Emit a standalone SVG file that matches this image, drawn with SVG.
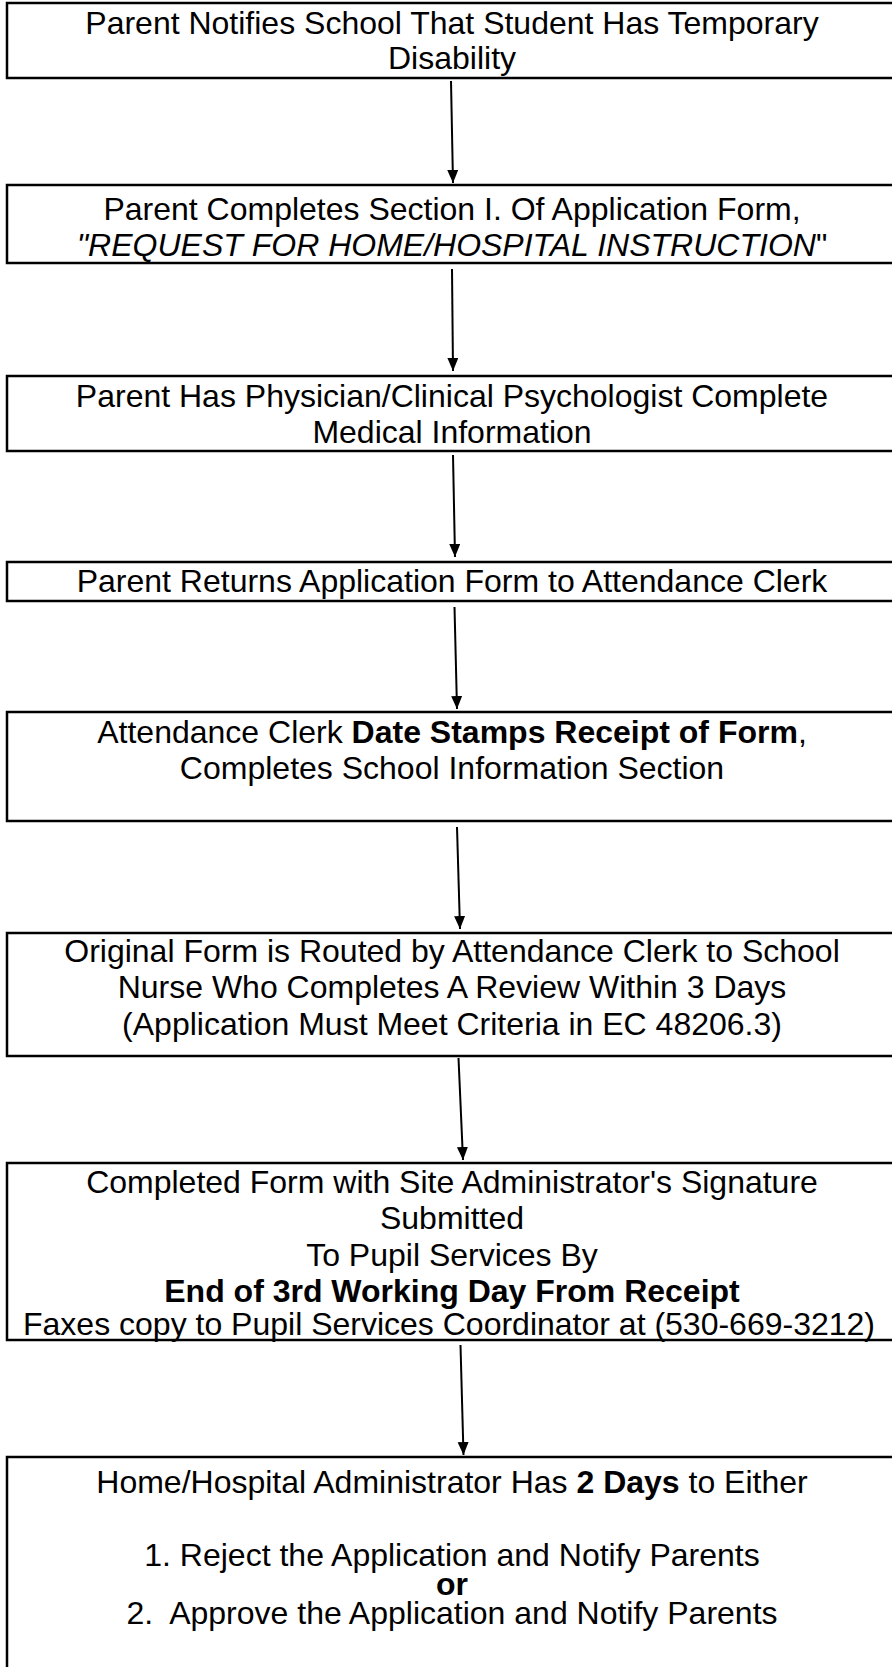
<svg xmlns="http://www.w3.org/2000/svg" width="892" height="1667" viewBox="0 0 892 1667">
<defs>
<marker id="arr" markerUnits="userSpaceOnUse" markerWidth="14" markerHeight="14" refX="13" refY="5.5" orient="auto">
<path d="M0,0 L13,5.5 L0,11 Z" fill="#000"/>
</marker>
<style>
.box{fill:#fff;stroke:#000;stroke-width:2.5}
.t{font-family:"Liberation Sans",Arial,sans-serif;font-size:32px;fill:#000;text-anchor:middle}
.b{font-weight:bold}
.i{font-style:italic}
.c{stroke:#000;stroke-width:2;fill:none;marker-end:url(#arr)}
</style>
</defs>
<rect width="892" height="1667" fill="#fff"/>
<g id="connectors">
<line class="c" x1="451" y1="81" x2="453" y2="183"/>
<line class="c" x1="452" y1="269" x2="453" y2="371"/>
<line class="c" x1="453" y1="455" x2="455" y2="557"/>
<line class="c" x1="454.5" y1="607" x2="457" y2="709"/>
<line class="c" x1="457" y1="827" x2="460" y2="929"/>
<line class="c" x1="458.5" y1="1058" x2="463" y2="1160"/>
<line class="c" x1="460.5" y1="1345" x2="463.5" y2="1455"/>
</g>
<g id="n1">
<rect class="box" x="7" y="3" width="890" height="75"/>
<text class="t" x="452" y="34">Parent Notifies School That Student Has Temporary</text>
<text class="t" x="452" y="69">Disability</text>
</g>
<g id="n2">
<rect class="box" x="7" y="185" width="890" height="78"/>
<text class="t" x="452" y="220">Parent Completes Section I. Of Application Form,</text>
<text class="t" x="452" y="256"><tspan class="i">"REQUEST FOR HOME/HOSPITAL INSTRUCTION</tspan>"</text>
</g>
<g id="n3">
<rect class="box" x="7" y="376" width="890" height="75"/>
<text class="t" x="452" y="407">Parent Has Physician/Clinical Psychologist Complete</text>
<text class="t" x="452" y="443">Medical Information</text>
</g>
<g id="n4">
<rect class="box" x="7" y="562" width="890" height="39"/>
<text class="t" x="452" y="592">Parent Returns Application Form to Attendance Clerk</text>
</g>
<g id="n5">
<rect class="box" x="7" y="712" width="890" height="109"/>
<text class="t" x="452" y="743">Attendance Clerk <tspan class="b">Date Stamps Receipt of Form</tspan>,</text>
<text class="t" x="452" y="779">Completes School Information Section</text>
</g>
<g id="n6">
<rect class="box" x="7" y="933" width="890" height="123"/>
<text class="t" x="452" y="962">Original Form is Routed by Attendance Clerk to School</text>
<text class="t" x="452" y="998">Nurse Who Completes A Review Within 3 Days</text>
<text class="t" x="452" y="1035">(Application Must Meet Criteria in EC 48206.3)</text>
</g>
<g id="n7">
<rect class="box" x="7" y="1163" width="890" height="177"/>
<text class="t" x="452" y="1193">Completed Form with Site Administrator's Signature</text>
<text class="t" x="452" y="1229">Submitted</text>
<text class="t" x="452" y="1266">To Pupil Services By</text>
<text class="t b" x="452" y="1302">End of 3rd Working Day From Receipt</text>
<text class="t" x="449" y="1335">Faxes copy to Pupil Services Coordinator at (530-669-3212)</text>
</g>
<g id="n8">
<rect class="box" x="7" y="1457" width="890" height="230"/>
<text class="t" x="452" y="1493">Home/Hospital Administrator Has <tspan class="b">2 Days</tspan> to Either</text>
<text class="t" x="452" y="1566">1. Reject the Application and Notify Parents</text>
<text class="t b" x="452" y="1595">or</text>
<text class="t" x="452" y="1624" xml:space="preserve">2.  Approve the Application and Notify Parents</text>
</g>
</svg>
